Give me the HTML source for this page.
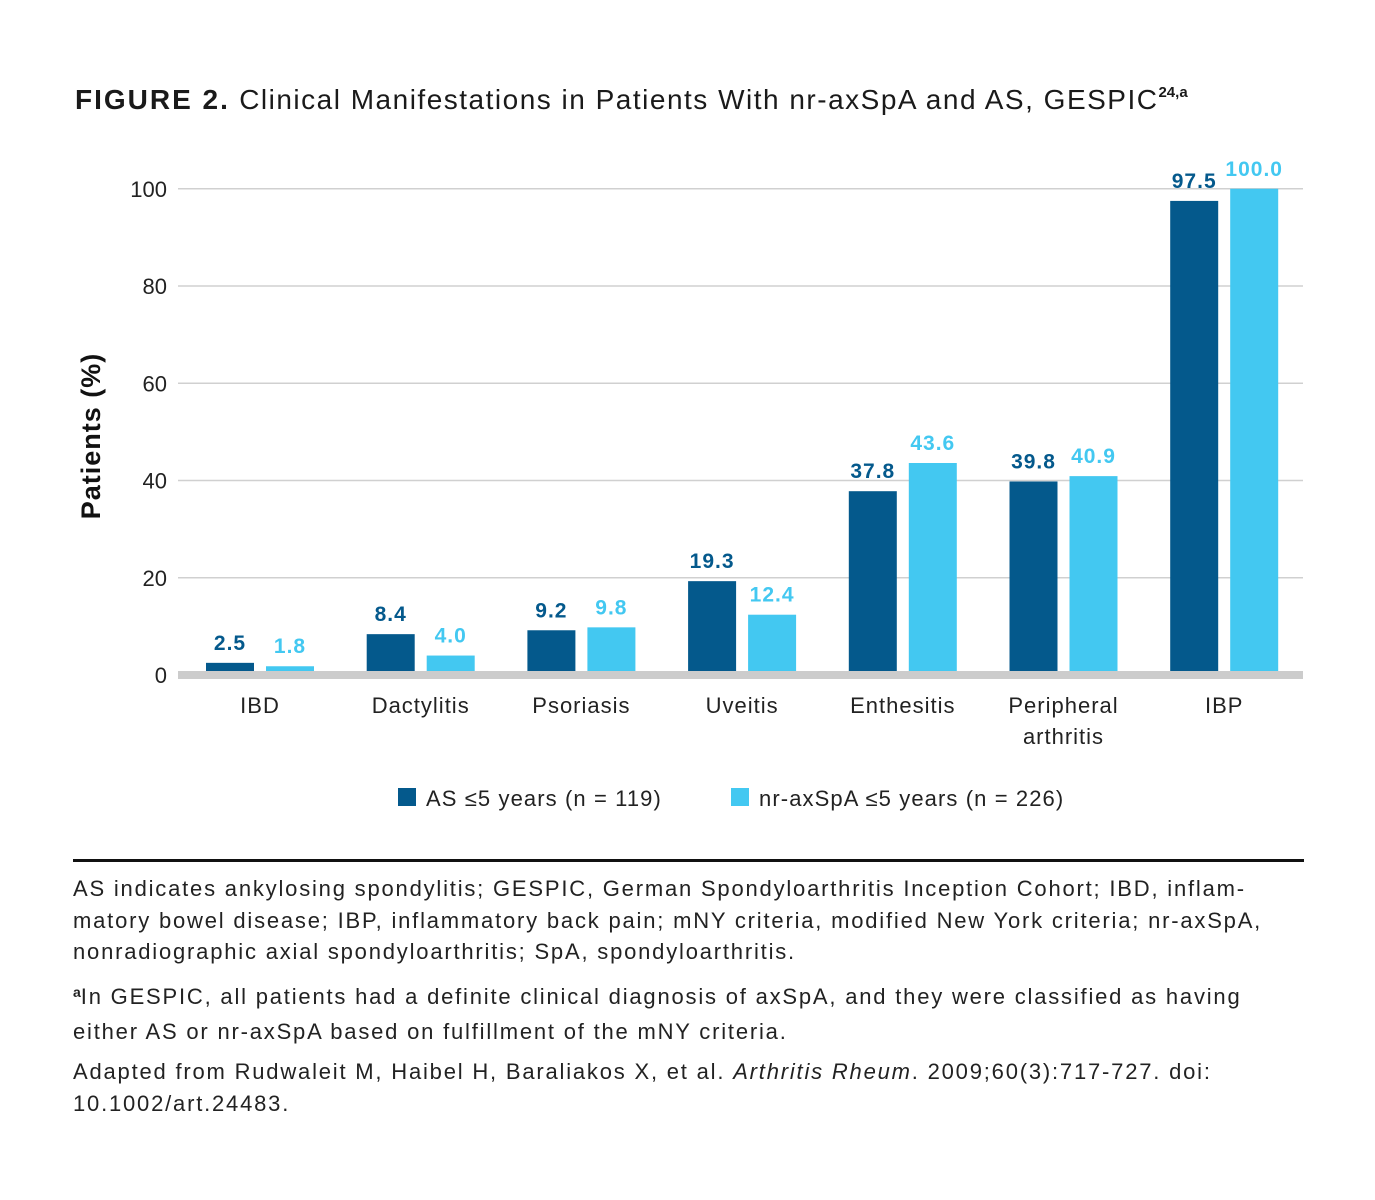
<!DOCTYPE html>
<html><head><meta charset="utf-8">
<style>
body{margin:0;background:#fff;width:1375px;height:1200px;overflow:hidden;font-family:"Liberation Sans",sans-serif;color:#1a1a1a}
#title{position:absolute;left:75px;top:84px;font-size:28px;white-space:nowrap;letter-spacing:1.5px}
#title b{font-weight:bold;letter-spacing:2px}
#title .sp{font-size:15px;position:relative;top:-12px;letter-spacing:0;font-weight:bold}
.fn{position:absolute;left:73px;font-size:22px;line-height:31.5px;color:#222;width:1240px;letter-spacing:1.8px;white-space:nowrap}
.fn .sp{font-size:14px;position:relative;top:-7px;letter-spacing:0;font-weight:bold}
</style></head><body>
<div id="title"><b>FIGURE 2.</b> Clinical Manifestations in Patients With nr-axSpA and AS, GESPIC<span class="sp">24,a</span></div>
<svg id="chart" width="1375" height="850" style="position:absolute;left:0;top:0"></svg>
<div style="position:absolute;left:73px;top:859px;width:1231px;height:3px;background:#111"></div>
<div class="fn" style="top:873px">AS indicates ankylosing spondylitis; GESPIC, German Spondyloarthritis Inception Cohort; IBD, inflam-<br>matory bowel disease; IBP, inflammatory back pain; mNY criteria, modified New York criteria; nr-axSpA,<br>nonradiographic axial spondyloarthritis; SpA, spondyloarthritis.</div>
<div class="fn" style="top:981px"><span class="sp">a</span>In GESPIC, all patients had a definite clinical diagnosis of axSpA, and they were classified as having<br>either AS or nr-axSpA based on fulfillment of the mNY criteria.</div>
<div class="fn" style="top:1056px">Adapted from Rudwaleit M, Haibel H, Baraliakos X, et al. <i>Arthritis Rheum</i>. 2009;60(3):717-727. doi:<br>10.1002/art.24483.</div>
<script>
const categories=[["IBD"],["Dactylitis"],["Psoriasis"],["Uveitis"],["Enthesitis"],["Peripheral","arthritis"],["IBP"]];
const asValues=[2.5,8.4,9.2,19.3,37.8,39.8,97.5];
const nrValues=[1.8,4.0,9.8,12.4,43.6,40.9,100.0];
const yTicks=[0,20,40,60,80,100];
const seriesNames=["AS \u22645 years (n = 119)","nr-axSpA \u22645 years (n = 226)"];
const DARK="#04598c",LIGHT="#43c8f1";
const svg=document.getElementById('chart');
const NS="http://www.w3.org/2000/svg";
function y(v){return 675-v*4.8625;}
function gx(i){return 206+i*160.7;}
function mk(t,a,txt){const e=document.createElementNS(NS,t);for(const k in a)e.setAttribute(k,a[k]);if(txt!==undefined)e.textContent=txt;svg.appendChild(e);return e;}
yTicks.forEach(t=>{
  if(t>0){const g=mk('line',{x1:178,x2:1303,y1:y(t),y2:y(t),stroke:'#d0d0d0','stroke-width':1.5});
  
  }
  const l=mk('text',{x:167,y:y(t)+8,'text-anchor':'end','font-size':22,fill:'#222'},t);
  
  
});
categories.forEach((c,i)=>{
  const x=gx(i);
  [[asValues[i],x,DARK,'as'],[nrValues[i],x+60,LIGHT,'nr']].forEach(([v,bx,col,s])=>{
    const r=mk('rect',{x:bx,y:y(v),width:48,height:v*4.8625,fill:col});
    
    
    const t=mk('text',{x:bx+24,y:y(v)-13,'text-anchor':'middle','font-size':21,'font-weight':'bold','letter-spacing':1,fill:col},v.toFixed(1));
    
    
  });
  c.forEach((ln,k)=>{
    const t=mk('text',{x:x+54,y:713+k*31,'text-anchor':'middle','font-size':22,'letter-spacing':1,fill:'#222'},ln);
    
    
  });
});
const base=mk('rect',{x:178,y:671,width:1125,height:8,fill:'#cccccc'});


const yt=mk('text',{x:0,y:0,transform:'translate(100,436) rotate(-90)','text-anchor':'middle','font-size':27,'font-weight':'bold','letter-spacing':1,fill:'#111'},'Patients (%)');


[[398,DARK,seriesNames[0]],[731,LIGHT,seriesNames[1]]].forEach(([lx,col,n],k)=>{
  const r=mk('rect',{x:lx,y:788,width:18,height:18,fill:col});
  
  
  const t=mk('text',{x:lx+28,y:806,'font-size':22,'letter-spacing':1.1,fill:'#222'},n);
  
  
});
</script>
</body></html>
